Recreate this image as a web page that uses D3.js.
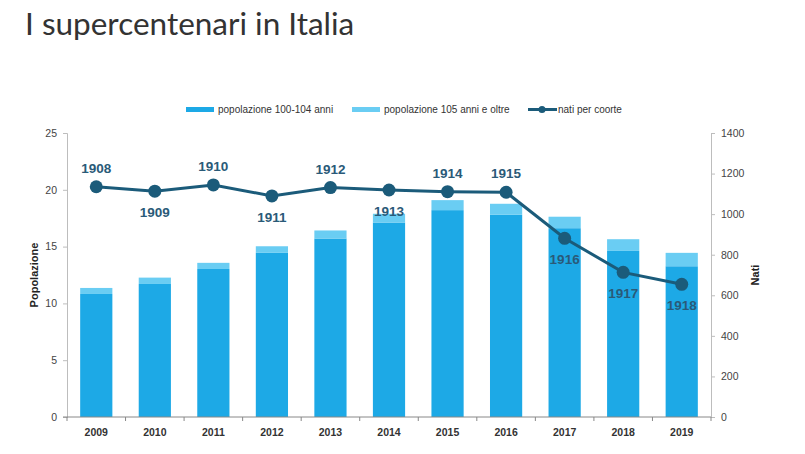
<!DOCTYPE html>
<html><head><meta charset="utf-8">
<script src="https://cdn.jsdelivr.net/npm/d3@7"></script>
<style>body{margin:0;background:#fff;} svg{display:block;}</style>
</head><body>
<svg id="c" width="805" height="454"></svg>
<script>
const years = ["2009","2010","2011","2012","2013","2014","2015","2016","2017","2018","2019"];
const pop100_104 = [10.83,11.71,13.03,14.45,15.71,17.12,18.21,17.80,16.62,14.62,13.27];
const pop105plus = [0.53,0.56,0.54,0.58,0.71,0.77,0.88,0.97,1.01,1.03,1.18];
const nati = [1135,1113,1144,1090,1131,1119,1111,1108,881,713,654];
const cohorts = ["1908","1909","1910","1911","1912","1913","1914","1915","1916","1917","1918"];
const labelPos = ["above","below","above","below","above","below","above","above","below","below","below"];
const leftTicks = [0,5,10,15,20,25];
const rightTicks = [0,200,400,600,800,1000,1200,1400];

const svg = d3.select("#c");
const L = 67, R = 711, T = 133, B = 417;
const x = d3.scaleBand().domain(years).range([L, R]).paddingInner(0.45).paddingOuter(0.225);
const xt = d3.scaleBand().domain(years).range([L, R]);
const yL = d3.scaleLinear().domain([0,25]).range([B, T]);
const yR = d3.scaleLinear().domain([0,1400]).range([B, T]);
const dark = "#1da9e6", light = "#6acdf3", lineC = "#1b5b7a", axisC = "#bdbdbd";

svg.append("text").attr("x", 25).attr("y", 35).attr("font-family", "Lato, sans-serif")
  .attr("font-size", 31.5).attr("fill", "#333").text("I supercentenari in Italia");

// bars
const g = svg.append("g");
years.forEach((yr, i) => {
  g.append("rect").attr("x", x(yr)).attr("width", x.bandwidth())
    .attr("y", yL(pop100_104[i])).attr("height", yL(0) - yL(pop100_104[i])).attr("fill", dark);
  g.append("rect").attr("x", x(yr)).attr("width", x.bandwidth())
    .attr("y", yL(pop100_104[i] + pop105plus[i])).attr("height", yL(pop100_104[i]) - yL(pop100_104[i] + pop105plus[i])).attr("fill", light);
});

// axes
const font = "Liberation Sans, Arial, sans-serif";
const ax = svg.append("g").attr("transform", `translate(${L},0)`)
  .call(d3.axisLeft(yL).tickValues(leftTicks).tickSize(4).tickPadding(6).tickFormat(d3.format("d")));
const ar = svg.append("g").attr("transform", `translate(${R},0)`)
  .call(d3.axisRight(yR).tickValues(rightTicks).tickSize(4).tickPadding(6).tickFormat(d3.format("d")));
[ax, ar].forEach(a => {
  a.select(".domain").attr("stroke", axisC);
  a.selectAll(".tick line").attr("stroke", axisC);
  a.selectAll("text").attr("font-family", font).attr("font-size", 10.5).attr("fill", "#444");
});
// x axis
const xa = svg.append("g");
xa.append("line").attr("x1", L - 4).attr("x2", R).attr("y1", B).attr("y2", B).attr("stroke", "#888");
years.forEach(yr => {
  xa.append("line").attr("x1", xt(yr)).attr("x2", xt(yr)).attr("y1", B).attr("y2", B + 4).attr("stroke", "#888");
  xa.append("text").attr("x", xt(yr) + xt.bandwidth()/2).attr("y", 436).attr("text-anchor", "middle")
    .attr("font-family", font).attr("font-weight", "bold").attr("font-size", 10.5).attr("fill", "#333").text(yr);
});
xa.append("line").attr("x1", R).attr("x2", R).attr("y1", B).attr("y2", B + 4).attr("stroke", "#888");

svg.append("text").attr("transform", "translate(38,275) rotate(-90)").attr("text-anchor", "middle")
  .attr("font-family", font).attr("font-weight", "bold").attr("font-size", 11).attr("fill", "#222").text("Popolazione");
svg.append("text").attr("transform", "translate(759,275) rotate(-90)").attr("text-anchor", "middle")
  .attr("font-family", font).attr("font-weight", "bold").attr("font-size", 11).attr("fill", "#222").text("Nati");

// line
const cx = yr => xt(yr) + xt.bandwidth()/2;
svg.append("path").datum(nati).attr("fill", "none").attr("stroke", lineC).attr("stroke-width", 3)
  .attr("d", d3.line().x((d, i) => cx(years[i])).y(d => yR(d)));
nati.forEach((v, i) => {
  svg.append("circle").attr("cx", cx(years[i])).attr("cy", yR(v)).attr("r", 6.5).attr("fill", lineC);
  const up = labelPos[i] === "above";
  svg.append("text").attr("x", cx(years[i])).attr("y", up ? yR(v) - 14 : yR(v) + 26)
    .attr("text-anchor", "middle").attr("font-family", font).attr("font-weight", "bold")
    .attr("font-size", 13.5).attr("fill", "#2a5a78").text(cohorts[i]);
});

// legend
const lg = svg.append("g").attr("font-family", font).attr("font-size", 10).attr("fill", "#333");
lg.append("rect").attr("x", 186).attr("y", 107).attr("width", 28).attr("height", 5).attr("fill", dark);
lg.append("text").attr("x", 218).attr("y", 113).text("popolazione 100-104 anni");
lg.append("rect").attr("x", 352).attr("y", 107).attr("width", 28).attr("height", 5).attr("fill", light);
lg.append("text").attr("x", 384).attr("y", 113).text("popolazione 105 anni e oltre");
lg.append("line").attr("x1", 528).attr("x2", 557).attr("y1", 109.5).attr("y2", 109.5).attr("stroke", lineC).attr("stroke-width", 3);
lg.append("circle").attr("cx", 542).attr("cy", 109.5).attr("r", 3.5).attr("fill", lineC);
lg.append("text").attr("x", 558).attr("y", 113).text("nati per coorte");
</script>
</body></html>
